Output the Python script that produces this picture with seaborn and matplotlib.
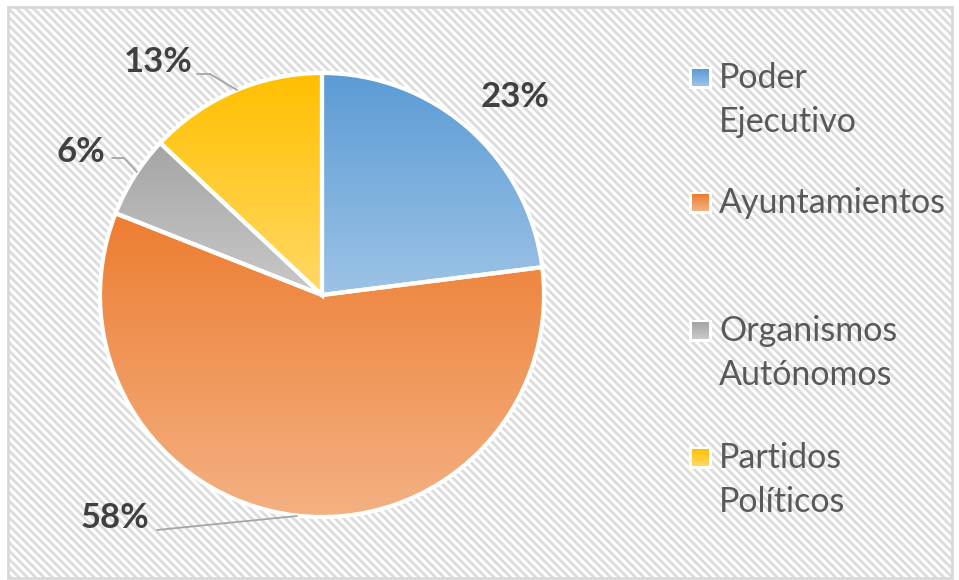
import numpy as np
import seaborn as sns
import matplotlib.pyplot as plt
from matplotlib.patches import Rectangle
from matplotlib.colors import LinearSegmentedColormap

# data
categories = ['Poder\nEjecutivo', 'Ayuntamientos', 'Organismos\nAutónomos', 'Partidos\nPolíticos']
values = [23, 58, 6, 13]
pct_labels = ['23%', '58%', '6%', '13%']

# gradient colours (top, bottom) for each slice
top_colors = ['#5B9BD5', '#ED7D31', '#A5A5A5', '#FFC000']
bottom_colors = ['#9DC3E6', '#F4B183', '#C9C9C9', '#FFD966']

sns.set_theme(style='white')
plt.rcParams['font.family'] = ['Lato', 'DejaVu Sans']
plt.rcParams['hatch.linewidth'] = 2.0

W, H = 959, 580
fig = plt.figure(figsize=(W / 100, H / 100), dpi=100)
ax = fig.add_axes([0, 0, 1, 1])

# striped background with frame
ax.add_patch(Rectangle((8, 2), 944, 571, facecolor='white', edgecolor='#dcdcdc',
                       lw=0, hatch='\\\\\\\\', zorder=0))
ax.add_patch(Rectangle((8, 2), 944, 571, facecolor='none', edgecolor='#d9d9d9',
                       lw=2, zorder=1))

cx, cy, r = 322, H - 295, 222
wedges, _ = ax.pie(values, startangle=90, counterclock=False, center=(cx, cy),
                   radius=r, frame=True,
                   wedgeprops=dict(edgecolor='white', linewidth=3))

# vertical gradient inside each slice
for w, c1, c2 in zip(wedges, top_colors, bottom_colors):
    w.set_facecolor('none')
    w.set_zorder(3)
    bb = w.get_path().get_extents()
    cmap = LinearSegmentedColormap.from_list('g', [c1, c2])
    grad = np.linspace(0, 1, 256).reshape(-1, 1)
    im = ax.imshow(grad, cmap=cmap, aspect='auto', origin='upper',
                   extent=(bb.x0, bb.x1, bb.y0, bb.y1), zorder=2)
    im.set_clip_path(w)

# percentage labels and leader lines
lab_kw = dict(fontsize=25, fontweight='bold', color='#404040', va='center')
ax.text(515, H - 97, pct_labels[0], ha='center', **lab_kw)
ax.text(115, H - 518, pct_labels[1], ha='center', **lab_kw)
ax.text(81, H - 152, pct_labels[2], ha='center', **lab_kw)
ax.text(158, H - 62, pct_labels[3], ha='center', **lab_kw)

line_kw = dict(color='#a6a6a6', lw=1.3, zorder=4)
ax.plot([157, 297], [H - 530, H - 516], **line_kw)
ax.plot([112, 124, 137], [H - 158, H - 158, H - 172], **line_kw)
ax.plot([197, 210, 237], [H - 74, H - 74, H - 90], **line_kw)

# legend drawn by hand
leg_y = [100, 203, 353, 480]
for y, lab, c1, c2 in zip(leg_y, categories, top_colors, bottom_colors):
    n = lab.count('\n')
    y_top = y - n * 22
    cmap = LinearSegmentedColormap.from_list('g', [c1, c2])
    grad = np.linspace(0, 1, 32).reshape(-1, 1)
    ax.add_patch(Rectangle((689, H - y_top - 11), 23, 22, facecolor='white',
                           edgecolor='none', zorder=2))
    ax.imshow(grad, cmap=cmap, aspect='auto', origin='upper',
              extent=(692, 709, H - y_top - 8, H - y_top + 9), zorder=3)
    ax.text(719, H - y, lab, fontsize=24.5, color='#595959', va='center',
            ha='left', linespacing=1.45, zorder=3)

ax.set_xlim(0, W)
ax.set_ylim(0, H)
ax.set_aspect('equal')
ax.axis('off')
fig.savefig('out.png', dpi=100)
